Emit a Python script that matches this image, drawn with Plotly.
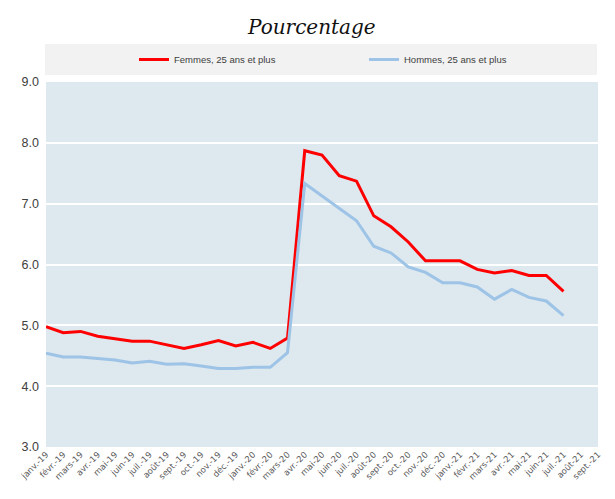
import plotly.graph_objects as go

months = ["janv.-19", "févr.-19", "mars-19", "avr.-19", "mai-19", "juin-19", "juil.-19", "août-19",
          "sept.-19", "oct.-19", "nov.-19", "déc.-19", "janv.-20", "févr.-20", "mars-20", "avr.-20",
          "mai-20", "juin-20", "juil.-20", "août-20", "sept.-20", "oct.-20", "nov.-20", "déc.-20",
          "janv.-21", "févr.-21", "mars-21", "avr.-21", "mai-21", "juin-21", "juil.-21", "août-21",
          "sept.-21"]

femmes = [4.98, 4.88, 4.90, 4.82, 4.78, 4.74, 4.74, 4.68, 4.62, 4.68, 4.75, 4.66, 4.72, 4.62, 4.79,
          7.87, 7.80, 7.46, 7.37, 6.80, 6.62, 6.37, 6.06, 6.06, 6.06, 5.92, 5.86, 5.90, 5.82, 5.82, 5.56,
          None, None]

hommes = [4.54, 4.48, 4.48, 4.46, 4.43, 4.38, 4.41, 4.36, 4.37, 4.33, 4.29, 4.29, 4.31, 4.31, 4.55,
          7.33, 7.13, 6.93, 6.72, 6.30, 6.19, 5.96, 5.87, 5.70, 5.70, 5.63, 5.43, 5.59, 5.46, 5.40, 5.16,
          None, None]

y_ticks = [3.0, 4.0, 5.0, 6.0, 7.0, 8.0, 9.0]

fig = go.Figure()
fig.add_trace(go.Scatter(x=months, y=femmes, mode="lines", name="Femmes, 25 ans et plus",
                         line=dict(color="#ff0000", width=3), legend="legend"))
fig.add_trace(go.Scatter(x=months, y=hommes, mode="lines", name="Hommes, 25 ans et plus",
                         line=dict(color="#9dc3e6", width=3), legend="legend2"))

H0, H1 = 82, 447
W0, W1 = 46, 598

def px_y(p):
    return (H1 - p) / (H1 - H0)

def px_x(p):
    return (p - W0) / (W1 - W0)

legend_font = dict(family="Liberation Sans, Arial, sans-serif", size=9.5, color="#404040")

fig.update_layout(
    width=615, height=499,
    margin=dict(l=W0, r=615 - W1, t=H0, b=499 - H1, autoexpand=False),
    paper_bgcolor="white",
    plot_bgcolor="#dde8ef",
    showlegend=True,
    legend=dict(x=px_x(134), y=px_y(59.5), xanchor="left", yanchor="middle",
                bgcolor="rgba(0,0,0,0)", font=legend_font, orientation="h"),
    legend2=dict(x=px_x(364), y=px_y(59.5), xanchor="left", yanchor="middle",
                 bgcolor="rgba(0,0,0,0)", font=legend_font, orientation="h"),
    xaxis=dict(type="category", range=[0, len(months) - 1], tickangle=-45, automargin=False,
               tickfont=dict(family="DejaVu Sans, Verdana, sans-serif", size=8.5, color="#595959"),
               showgrid=False, showline=False, zeroline=False, ticks=""),
    yaxis=dict(range=[3, 9], tickvals=y_ticks, tickformat=".1f", automargin=False,
               tickfont=dict(family="Liberation Sans, Arial, sans-serif", size=12.5, color="#404040"),
               showgrid=True, gridcolor="white", gridwidth=1.5, zeroline=False, showline=False,
               ticks="", ticklabelstandoff=6),
    shapes=[dict(type="rect", xref="paper", yref="paper",
                 x0=px_x(45), x1=px_x(597), y0=px_y(75), y1=px_y(44),
                 fillcolor="#f2f2f2", line=dict(width=0), layer="below")],
    annotations=[dict(text="<i>Pourcentage</i>", xref="paper", yref="paper",
                      x=px_x(311), y=px_y(27), xanchor="center", yanchor="middle",
                      showarrow=False,
                      font=dict(family="DejaVu Serif, serif", size=20, color="#111111"))],
)

fig.write_html("out.html", config={"displayModeBar": False},
               post_script="document.body.style.margin='0px';document.body.style.overflow='hidden';")
